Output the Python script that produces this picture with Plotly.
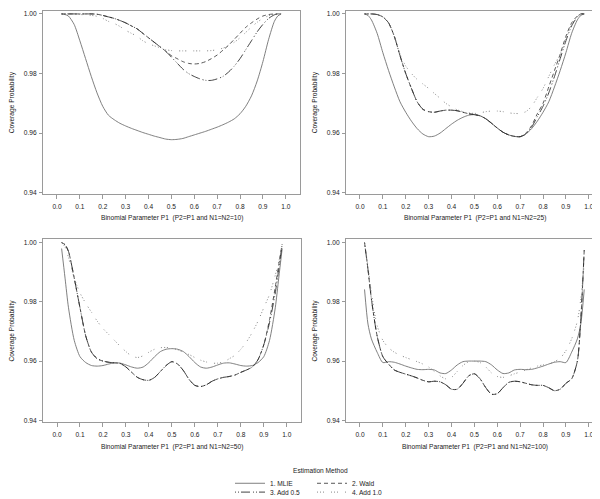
import plotly.graph_objects as go

# ---------------- data ----------------
P = [0.02, 0.035, 0.05, 0.075, 0.1, 0.125, 0.15, 0.175, 0.2, 0.225, 0.25, 0.275, 0.3,
     0.325, 0.35, 0.375, 0.4, 0.425, 0.45, 0.475, 0.5, 0.525, 0.55, 0.575, 0.6, 0.625,
     0.65, 0.675, 0.7, 0.725, 0.75, 0.775, 0.8, 0.825, 0.85, 0.875, 0.9, 0.925, 0.95,
     0.965, 0.98]

methods = ["1. MLIE", "2. Wald", "3. Add 0.5", "4. Add 1.0"]
sample_sizes = [10, 25, 50, 100]

# N1 = N2 = 10
n10_mlie = [1.000, 0.9998, 0.9993, 0.9965, 0.991, 0.985, 0.979, 0.9735, 0.969, 0.966, 0.9645,
            0.9633, 0.9624, 0.9616, 0.9609, 0.9602, 0.9596, 0.959, 0.9585, 0.958, 0.9578,
            0.9579, 0.9582, 0.9588, 0.9594, 0.960, 0.9606, 0.9613, 0.962, 0.9628, 0.9637,
            0.9648, 0.9665, 0.969, 0.9725, 0.9775, 0.984, 0.9915, 0.9975, 0.9993, 1.000]
n10_wald = [1.0, 1.0, 1.0, 1.0, 1.0, 1.0, 1.0, 0.9999, 0.9995, 0.999, 0.9985, 0.9978, 0.997,
            0.996, 0.995, 0.9935, 0.992, 0.9905, 0.989, 0.9875, 0.986, 0.985, 0.984, 0.9834,
            0.9832, 0.9834, 0.984, 0.985, 0.9862, 0.9878, 0.9895, 0.9915, 0.9935, 0.9955,
            0.997, 0.9983, 0.9993, 0.9998, 1.0, 1.0, 1.0]
n10_add05 = [1.0, 1.0, 1.0, 1.0, 1.0, 1.0, 1.0, 0.9999, 0.9995, 0.999, 0.9985, 0.9978, 0.997,
             0.996, 0.995, 0.9935, 0.992, 0.9905, 0.989, 0.9875, 0.9855, 0.9835, 0.9815,
             0.980, 0.979, 0.9782, 0.9777, 0.9777, 0.9782, 0.979, 0.9805, 0.9825, 0.985,
             0.988, 0.991, 0.994, 0.9965, 0.9985, 0.9997, 1.0, 1.0]
n10_add10 = [1.0, 1.0, 1.0, 0.9999, 0.9998, 0.9997, 0.9995, 0.9992, 0.9985, 0.9975, 0.9968,
             0.9958, 0.9945, 0.9935, 0.9925, 0.991, 0.990, 0.9893, 0.9887, 0.988, 0.9877,
             0.9876, 0.9876, 0.9876, 0.9876, 0.9876, 0.9876, 0.9877, 0.988, 0.9885, 0.9893,
             0.9905, 0.992, 0.9938, 0.9956, 0.9972, 0.9985, 0.9994, 0.9999, 1.0, 1.0]

# N1 = N2 = 25
n25_mlie = [1.0, 0.9995, 0.998, 0.9935, 0.987, 0.981, 0.9755, 0.9705, 0.967, 0.964, 0.9615,
            0.9597, 0.9588, 0.959, 0.960, 0.9615, 0.963, 0.9643, 0.9653, 0.966, 0.9662,
            0.9658, 0.9648, 0.9633, 0.9617, 0.9603, 0.9594, 0.9589, 0.9588, 0.9597, 0.9615,
            0.964, 0.967, 0.9705, 0.9755, 0.981, 0.987, 0.9935, 0.998, 0.9995, 1.0]
n25_wald = [1.0, 1.0, 1.0, 0.9998, 0.999, 0.997, 0.9925, 0.986, 0.980, 0.975, 0.9705, 0.968,
            0.9672, 0.967, 0.9674, 0.9677, 0.9677, 0.9675, 0.967, 0.9665, 0.9662, 0.9658,
            0.9648, 0.9633, 0.9617, 0.9603, 0.9594, 0.9589, 0.9588, 0.960, 0.9625, 0.9665,
            0.970, 0.9755, 0.981, 0.9865, 0.9925, 0.997, 0.9993, 1.0, 1.0]
n25_add05 = [1.0, 1.0, 1.0, 0.9998, 0.999, 0.997, 0.9925, 0.986, 0.980, 0.975, 0.9705, 0.968,
             0.9672, 0.967, 0.9674, 0.9677, 0.9677, 0.9675, 0.967, 0.9665, 0.9662, 0.9658,
             0.9648, 0.9633, 0.9617, 0.9603, 0.9594, 0.9589, 0.9588, 0.9597, 0.962, 0.9655,
             0.969, 0.9735, 0.979, 0.985, 0.991, 0.996, 0.999, 1.0, 1.0]
n25_add10 = [1.0, 1.0, 1.0, 0.9998, 0.999, 0.997, 0.9925, 0.9865, 0.9825, 0.980, 0.978, 0.9765,
             0.975, 0.9733, 0.9717, 0.970, 0.9688, 0.9678, 0.9672, 0.9668, 0.9666, 0.9668,
             0.9672, 0.9674, 0.9674, 0.9672, 0.9668, 0.9666, 0.9666, 0.9672, 0.969, 0.972,
             0.975, 0.979, 0.983, 0.9865, 0.9915, 0.9965, 0.9992, 1.0, 1.0]

# N1 = N2 = 50
n50_mlie = [0.998, 0.988, 0.978, 0.967, 0.9615, 0.9595, 0.9585, 0.9583, 0.9585, 0.959, 0.9594,
            0.9593, 0.9587, 0.958, 0.9576, 0.958, 0.9595, 0.9615, 0.9632, 0.964, 0.9642,
            0.964, 0.9632, 0.9615, 0.9595, 0.958, 0.9576, 0.958, 0.9587, 0.9593, 0.9594,
            0.959, 0.9585, 0.9583, 0.9585, 0.9595, 0.9615, 0.967, 0.978, 0.988, 0.998]
n50_wald = [1.0, 0.9993, 0.997, 0.988, 0.978, 0.9685, 0.963, 0.9608, 0.960, 0.9596, 0.9594,
            0.9592, 0.958, 0.9562, 0.9545, 0.9537, 0.9535, 0.9545, 0.9565, 0.9585, 0.9598,
            0.959, 0.9568, 0.9538, 0.9518, 0.9514, 0.952, 0.9532, 0.954, 0.9545, 0.9548,
            0.9553, 0.9562, 0.957, 0.958, 0.9605, 0.9655, 0.974, 0.985, 0.9925, 0.9995]
n50_add05 = [1.0, 0.9993, 0.997, 0.988, 0.978, 0.9685, 0.963, 0.9608, 0.960, 0.9596, 0.9594,
             0.9592, 0.958, 0.9562, 0.9545, 0.9537, 0.9535, 0.9545, 0.9565, 0.9585, 0.9598,
             0.959, 0.9568, 0.9538, 0.9518, 0.9514, 0.952, 0.9532, 0.954, 0.9545, 0.9548,
             0.9553, 0.9562, 0.957, 0.958, 0.9605, 0.9655, 0.973, 0.983, 0.991, 0.9995]
n50_add10 = [1.0, 0.9985, 0.995, 0.988, 0.983, 0.9795, 0.9765, 0.9735, 0.971, 0.969, 0.967,
             0.965, 0.9632, 0.9617, 0.9612, 0.9618, 0.963, 0.964, 0.9645, 0.9646, 0.9644,
             0.9638, 0.963, 0.9622, 0.9612, 0.9603, 0.9597, 0.9593, 0.9593, 0.9597, 0.9608,
             0.962, 0.964, 0.9665, 0.9697, 0.9735, 0.978, 0.9825, 0.989, 0.9935, 0.9985]

# N1 = N2 = 100
n100_mlie = [0.9842, 0.9725, 0.9675, 0.963, 0.9595, 0.9598, 0.9596, 0.959, 0.9583, 0.9577,
             0.9572, 0.9571, 0.9572, 0.957, 0.956, 0.9558, 0.957, 0.9587, 0.9598, 0.960,
             0.960, 0.960, 0.9598, 0.9587, 0.957, 0.9558, 0.956, 0.957, 0.9572, 0.9571,
             0.9572, 0.9577, 0.9583, 0.959, 0.9596, 0.9598, 0.9595, 0.963, 0.9675, 0.9725,
             0.9842]
n100_wald = [1.0, 0.991, 0.981, 0.9685, 0.9615, 0.959, 0.957, 0.9562, 0.9556, 0.955, 0.9543,
             0.9535, 0.953, 0.9532, 0.953, 0.952, 0.9505, 0.9505, 0.9525, 0.955, 0.9557,
             0.954, 0.951, 0.9488, 0.949, 0.951, 0.9528, 0.9532, 0.953, 0.9525, 0.952,
             0.9518, 0.9518, 0.951, 0.950, 0.9505, 0.9525, 0.954, 0.960, 0.974, 0.9975]
n100_add05 = [1.0, 0.991, 0.981, 0.9685, 0.9615, 0.959, 0.957, 0.9562, 0.9556, 0.955, 0.9543,
              0.9535, 0.953, 0.9532, 0.953, 0.952, 0.9505, 0.9505, 0.9525, 0.955, 0.9557,
              0.954, 0.951, 0.9488, 0.949, 0.951, 0.9528, 0.9532, 0.953, 0.9525, 0.952,
              0.9518, 0.9518, 0.951, 0.950, 0.9505, 0.9525, 0.954, 0.960, 0.974, 0.9975]
n100_add10 = [1.0, 0.992, 0.983, 0.972, 0.967, 0.9645, 0.963, 0.962, 0.9612, 0.9605, 0.9598,
              0.959, 0.958, 0.9565, 0.955, 0.954, 0.9545, 0.9565, 0.9585, 0.9598, 0.960,
              0.9595, 0.958, 0.956, 0.9548, 0.9545, 0.955, 0.9557, 0.9563, 0.957, 0.9577,
              0.9583, 0.9587, 0.959, 0.9598, 0.961, 0.9635, 0.9675, 0.9735, 0.981, 0.993]

panels = {
    10: [n10_mlie, n10_wald, n10_add05, n10_add10],
    25: [n25_mlie, n25_wald, n25_add05, n25_add10],
    50: [n50_mlie, n50_wald, n50_add05, n50_add10],
    100: [n100_mlie, n100_wald, n100_add05, n100_add10],
}

y_ticks = [0.94, 0.96, 0.98, 1.00]
x_ticks = [0.0, 0.1, 0.2, 0.3, 0.4, 0.5, 0.6, 0.7, 0.8, 0.9, 1.0]

# ---------------- style ----------------
W, H = 600, 499
FONT = "Arial, 'Liberation Sans', sans-serif"
FS = 6.6
TXT = "#1a1a1a"
AXC = "#9a9a9a"
line_styles = [
    dict(color="#727272", width=0.9, dash="solid"),
    dict(color="#444444", width=0.9, dash="4px,3px"),
    dict(color="#2e2e2e", width=0.9, dash="1px,2px,1px,2px,9px,3px"),
    dict(color="#7a7a7a", width=0.9, dash="1px,2px,1px,2px,1px,7px"),
]

# panel boxes in pixels: (left, right, top, bottom)
boxes = [(35, 292, 3, 189), (338, 595, 3, 189), (35, 293, 235, 422), (338, 595, 235, 422)]
yranges = [(0.9397, 1.001), (0.9397, 1.001), (0.9393, 1.0013), (0.9393, 1.0013)]
xrange_ = (-0.061, 1.062)

fig = go.Figure()
annotations = []
for i, n in enumerate(sample_sizes):
    xa = "x" if i == 0 else f"x{i+1}"
    ya = "y" if i == 0 else f"y{i+1}"
    for j, (name, vals) in enumerate(zip(methods, panels[n])):
        fig.add_trace(go.Scatter(
            x=P, y=vals, mode="lines", name=name, xaxis=xa, yaxis=ya,
            line=dict(shape="spline", smoothing=0.7, **line_styles[j]),
            showlegend=(i == 0),
            legend="legend" if j < 2 else "legend2",
            hoverinfo="skip",
        ))
    l, r, t, b = boxes[i]
    axkey = "" if i == 0 else str(i + 1)
    fig.update_layout(**{
        f"xaxis{axkey}": dict(
            domain=[l / W, r / W], range=list(xrange_), anchor=ya,
            tickvals=x_ticks, ticktext=[f"{v:.1f}" for v in x_ticks],
            showgrid=False, zeroline=False, showline=True, mirror=True,
            linecolor=AXC, linewidth=1, ticks="outside", ticklen=4, tickcolor=AXC,
            tickfont=dict(family=FONT, size=FS, color=TXT), ticklabelstandoff=2,
        ),
        f"yaxis{axkey}": dict(
            domain=[1 - b / H, 1 - t / H], range=list(yranges[i]), anchor=xa,
            tickvals=y_ticks, ticktext=[f"{v:.2f}" for v in y_ticks],
            showgrid=False, zeroline=False, showline=True, mirror=True,
            linecolor=AXC, linewidth=1, ticks="outside", ticklen=3, tickcolor=AXC,
            tickfont=dict(family=FONT, size=FS, color=TXT), ticklabelstandoff=1,
        ),
    })
    # axis titles
    annotations.append(dict(
        text=f"Binomial Parameter P1 \u00a0(P2=P1 and N1=N2={n})",
        x=(l + r) / 2 / W, y=1 - (b + 25) / H, xref="paper", yref="paper",
        showarrow=False, xanchor="center", yanchor="middle",
        font=dict(family=FONT, size=FS, color=TXT),
    ))
    annotations.append(dict(
        text="Coverage Probability", textangle=-90,
        x=(l - 31) / W, y=1 - (t + b) / 2 / H, xref="paper", yref="paper",
        showarrow=False, xanchor="center", yanchor="middle",
        font=dict(family=FONT, size=FS, color=TXT),
    ))

annotations.append(dict(
    text="Estimation Method", x=313 / W, y=1 - 471 / H, xref="paper", yref="paper",
    showarrow=False, xanchor="center", yanchor="middle",
    font=dict(family=FONT, size=FS, color=TXT),
))

legend_common = dict(
    orientation="h", xanchor="left", yanchor="middle",
    font=dict(family=FONT, size=FS, color=TXT), bgcolor="rgba(0,0,0,0)",
    entrywidth=37, entrywidthmode="pixels", itemwidth=30, tracegroupgap=0,
)

fig.update_layout(
    width=W, height=H, margin=dict(l=0, r=0, t=0, b=0),
    paper_bgcolor="white", plot_bgcolor="white",
    annotations=annotations,
    legend=dict(x=222 / W, y=1 - 484 / H, **legend_common),
    legend2=dict(x=222 / W, y=1 - 493 / H, **legend_common),
)

fig.write_html("out.html")
